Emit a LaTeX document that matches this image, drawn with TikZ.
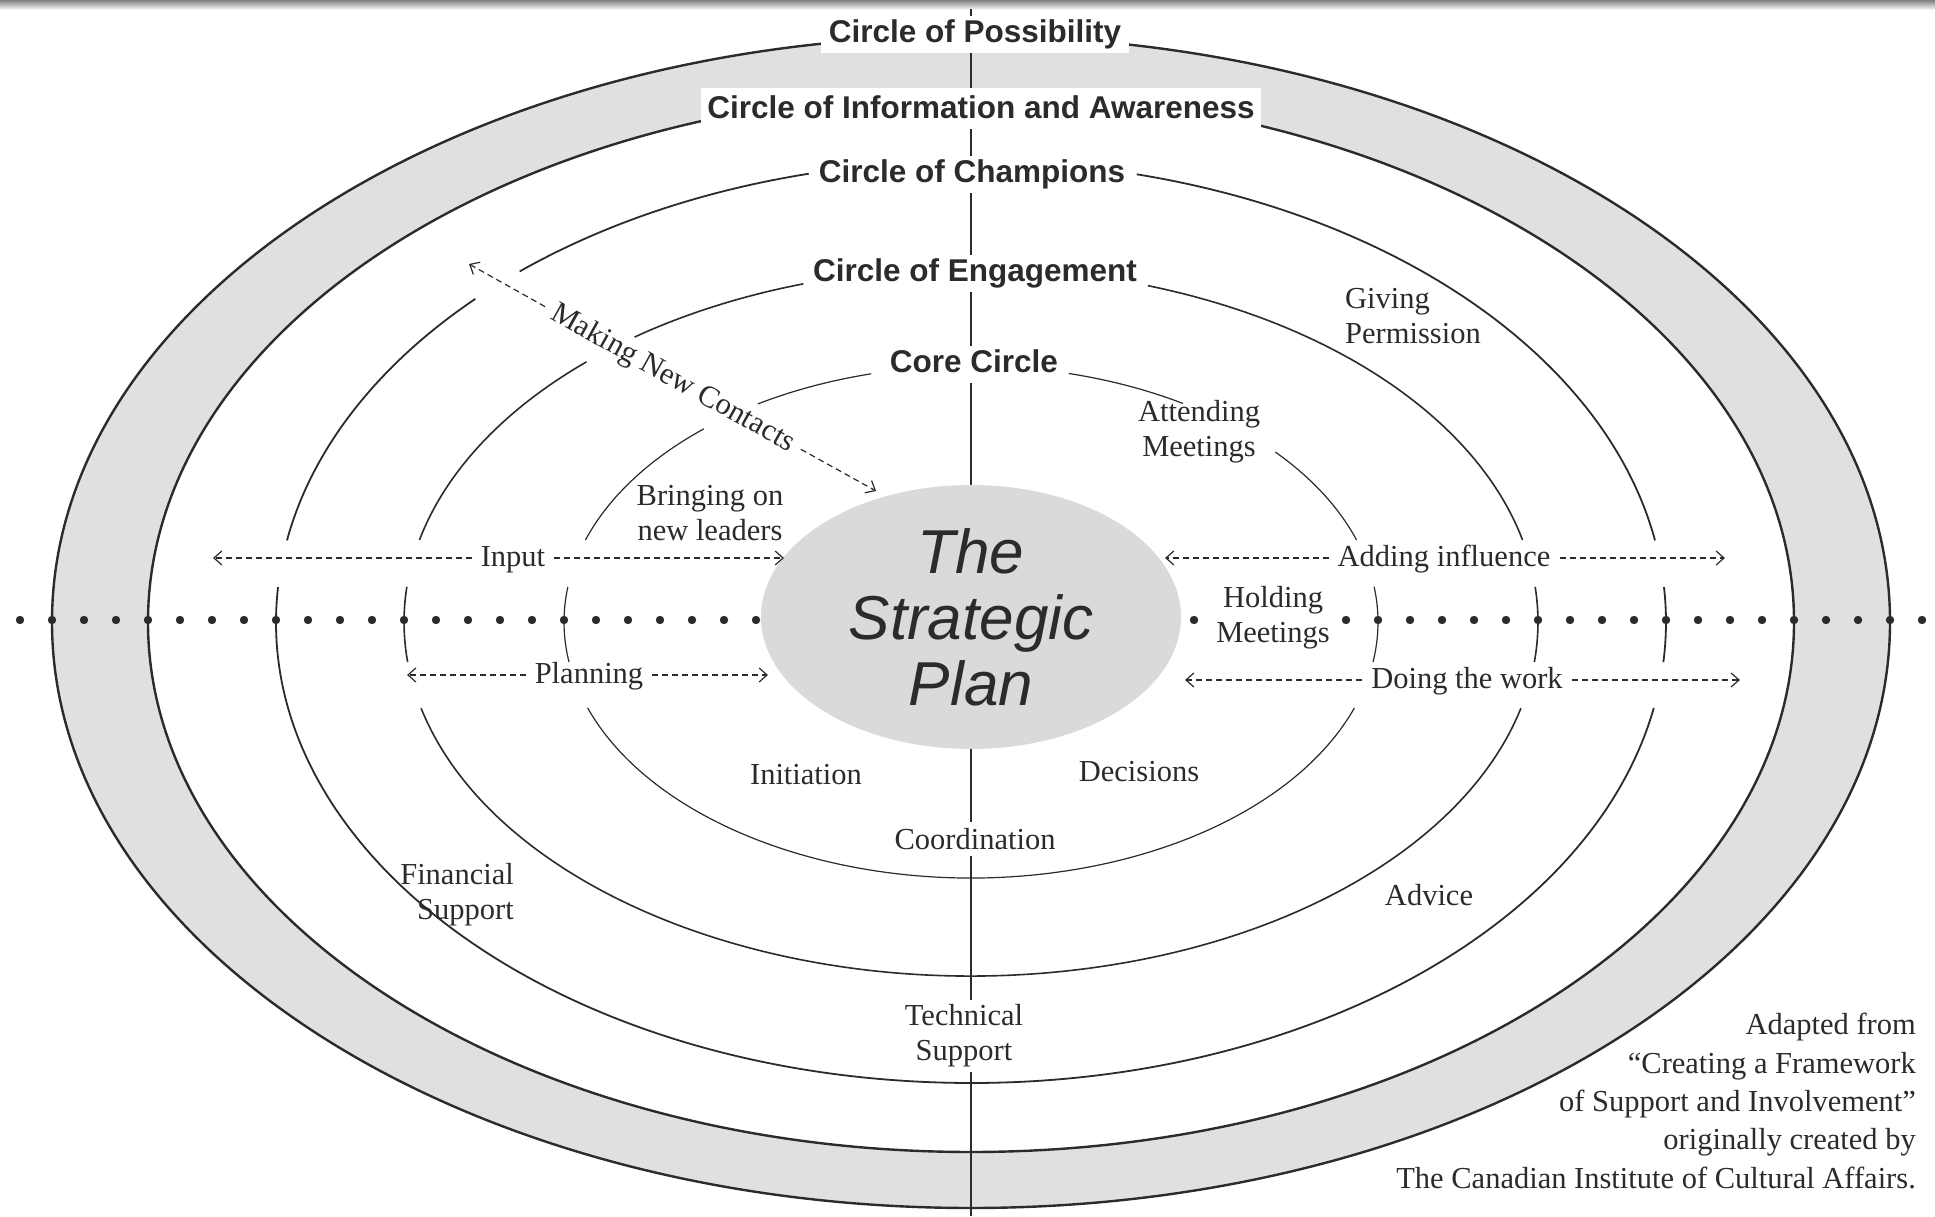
\documentclass[tikz,border=0pt]{standalone}
\usepackage{fontspec}
\setmainfont{Liberation Serif}
\newfontfamily\sansfont{Liberation Sans}
\usetikzlibrary{arrows.meta,shapes.geometric}
\definecolor{ink}{HTML}{2B2B2B}
\definecolor{bandgray}{HTML}{DFE0E2}
\definecolor{plangray}{HTML}{DADADC}
\newcommand\lowtxt[1]{\raisebox{-6pt}{#1}}
\begin{document}
\begin{tikzpicture}[x=1pt,y=1pt,
  ringA/.style={draw=ink, line width=2.4pt},
  ringB/.style={draw=ink, line width=1.8pt},
  ringC/.style={draw=ink, line width=1.6pt},
  ringD/.style={draw=ink, line width=1.2pt},
  vline/.style={draw=ink, line width=2.1pt},
  circlbl/.style={font=\sansfont\bfseries\fontsize{31.5}{36}\selectfont, text=ink, fill=white, inner xsep=8pt, inner ysep=4pt, text height=23pt, text depth=6pt, anchor=base},
  lbl/.style={font=\fontsize{30.5}{35}\selectfont, text=ink, inner sep=0pt, align=center},
  arrlbl/.style={font=\fontsize{30.5}{35}\selectfont, text=ink, inner xsep=9pt, inner ysep=0pt, anchor=mid},
  darr/.style={draw=ink, line width=1.2pt, dash pattern=on 6pt off 4pt, -{Straight Barb[length=8pt,width=14pt]}},
  planbox/.style={ellipse, fill=plangray, minimum width=420pt, minimum height=264pt, inner sep=0pt, align=center, text=ink, font=\sansfont\itshape\fontsize{62}{66}\selectfont}
]
\fill[white] (0,0) rectangle (1935,1216);
\useasboundingbox (0,0) rectangle (1935,1216);
\shade[top color=black!50, bottom color=white] (0,1206) rectangle (1935,1216);

\coordinate (c) at (971,594);
% gray band
\fill[bandgray, even odd rule] (c) ellipse[x radius=919pt, y radius=586pt] (c) ellipse[x radius=823pt, y radius=530pt];
\draw[ringA] (c) ellipse[x radius=919pt, y radius=586pt];
\draw[ringA] (c) ellipse[x radius=823pt, y radius=530pt];
% Champions
\foreach \a/\b in {10.2/76.2, 103.5/130.5, 135.5/169.8, 175.65/349.25, 355/364.35}
  \draw[ringB] (c) ++(\a:695pt and 461pt) arc[start angle=\a, end angle=\b, x radius=695pt, y radius=461pt];
% Engagement
\foreach \a/\b in {13.4/71.8, 107.2/126.4, 132.7/166.6, 174.3/186.5, 194.1/345.9, 353.5/365.7}
  \draw[ringC] (c) ++(\a:567pt and 354pt) arc[start angle=\a, end angle=\b, x radius=567pt, y radius=354pt];
% Core
\foreach \a/\b in {18.7/41.6, 58.6/76.1, 104.2/121.6, 131/161.3, 172.1/189, 199.6/340.4, 351/367.9}
  \draw[ringD] (c) ++(\a:407pt and 256pt) arc[start angle=\a, end angle=\b, x radius=407pt, y radius=256pt];

% vertical axis
\coordinate (vtop) at (971,1207);
\coordinate (vbot) at (971,0);
\draw[vline] (vtop) -- (vbot);

% dotted line
\foreach \x in {20,52,...,756} \fill[ink] (\x,596) circle[radius=4.2pt];
\foreach \x in {1194,1346,1378,...,1922} \fill[ink] (\x,596) circle[radius=4.2pt];

% centre
\node[planbox] (plan) at (971,599) {The\\Strategic\\Plan};

% circle labels
\node[circlbl] (poss) at (975,1173) {Circle of Possibility};
\node[circlbl, inner xsep=6pt, text height=27pt] (info) at (981,1097) {Circle of Information and Awareness};
\node[circlbl] (champ) at (972,1033) {Circle of Champions};
\node[circlbl] (engage) at (975,934) {Circle of Engagement};
\node[circlbl] (core) at (974,843) {Core Circle};

% other labels
\node[lbl, align=left, anchor=west] (give) at (1345,900) {Giving\\Permission};
\node[lbl] (attend) at (1199,784) {Attending\\Meetings};
\node[lbl] (bring) at (710,703) {Bringing on\\new leaders};
\node[lbl, fill=white, inner xsep=2pt] (hold) at (1273,598) {Holding\\Meetings};
\node[lbl] (init) at (806,441) {Initiation};
\node[lbl] (decide) at (1139,444) {Decisions};
\node[lbl, fill=white, inner ysep=6pt] (coord) at (975,377) {Coordination};
\node[lbl, fill=white, inner ysep=5pt] (tech) at (964,180) {Technical\\Support};
\node[lbl, align=right, anchor=east] (fin) at (514,321) {Financial\\Support};
\node[lbl] (advice) at (1429,321) {Advice};
\node[lbl, align=right, anchor=east, font=\fontsize{30.5}{38.3}\selectfont] (credit) at (1916,115)
  {Adapted from\\“Creating a Framework\\of Support and Involvement”\\originally created by\\The Canadian Institute of Cultural Affairs.};

% dashed arrows
\coordinate (inL) at (213,658); \coordinate (inR) at (784,658);
\node[arrlbl] (input) at (513,658) {\lowtxt{Input}};
\draw[darr] (input.mid west) -- (inL);
\draw[darr] (input.mid east) -- (inR);

\coordinate (plL) at (407,541); \coordinate (plR) at (768,541);
\node[arrlbl] (plan2) at (589,541) {\lowtxt{Planning}};
\draw[darr] (plan2.mid west) -- (plL);
\draw[darr] (plan2.mid east) -- (plR);

\coordinate (adL) at (1165,658); \coordinate (adR) at (1725,658);
\node[arrlbl] (adding) at (1444,658) {\lowtxt{Adding influence}};
\draw[darr] (adding.mid west) -- (adL);
\draw[darr] (adding.mid east) -- (adR);

\coordinate (doL) at (1185,536); \coordinate (doR) at (1740,536);
\node[arrlbl] (doing) at (1467,536) {\lowtxt{Doing the work}};
\draw[darr] (doing.mid west) -- (doL);
\draw[darr] (doing.mid east) -- (doR);

\coordinate (mkA) at (469,952); \coordinate (mkB) at (876,725);
\node[arrlbl, rotate=-29.15] (mk) at (673,838) {\lowtxt{Making New Contacts}};
\draw[darr] (mk.mid west) -- (mkA);
\draw[darr] (mk.mid east) -- (mkB);
\end{tikzpicture}
\end{document}
